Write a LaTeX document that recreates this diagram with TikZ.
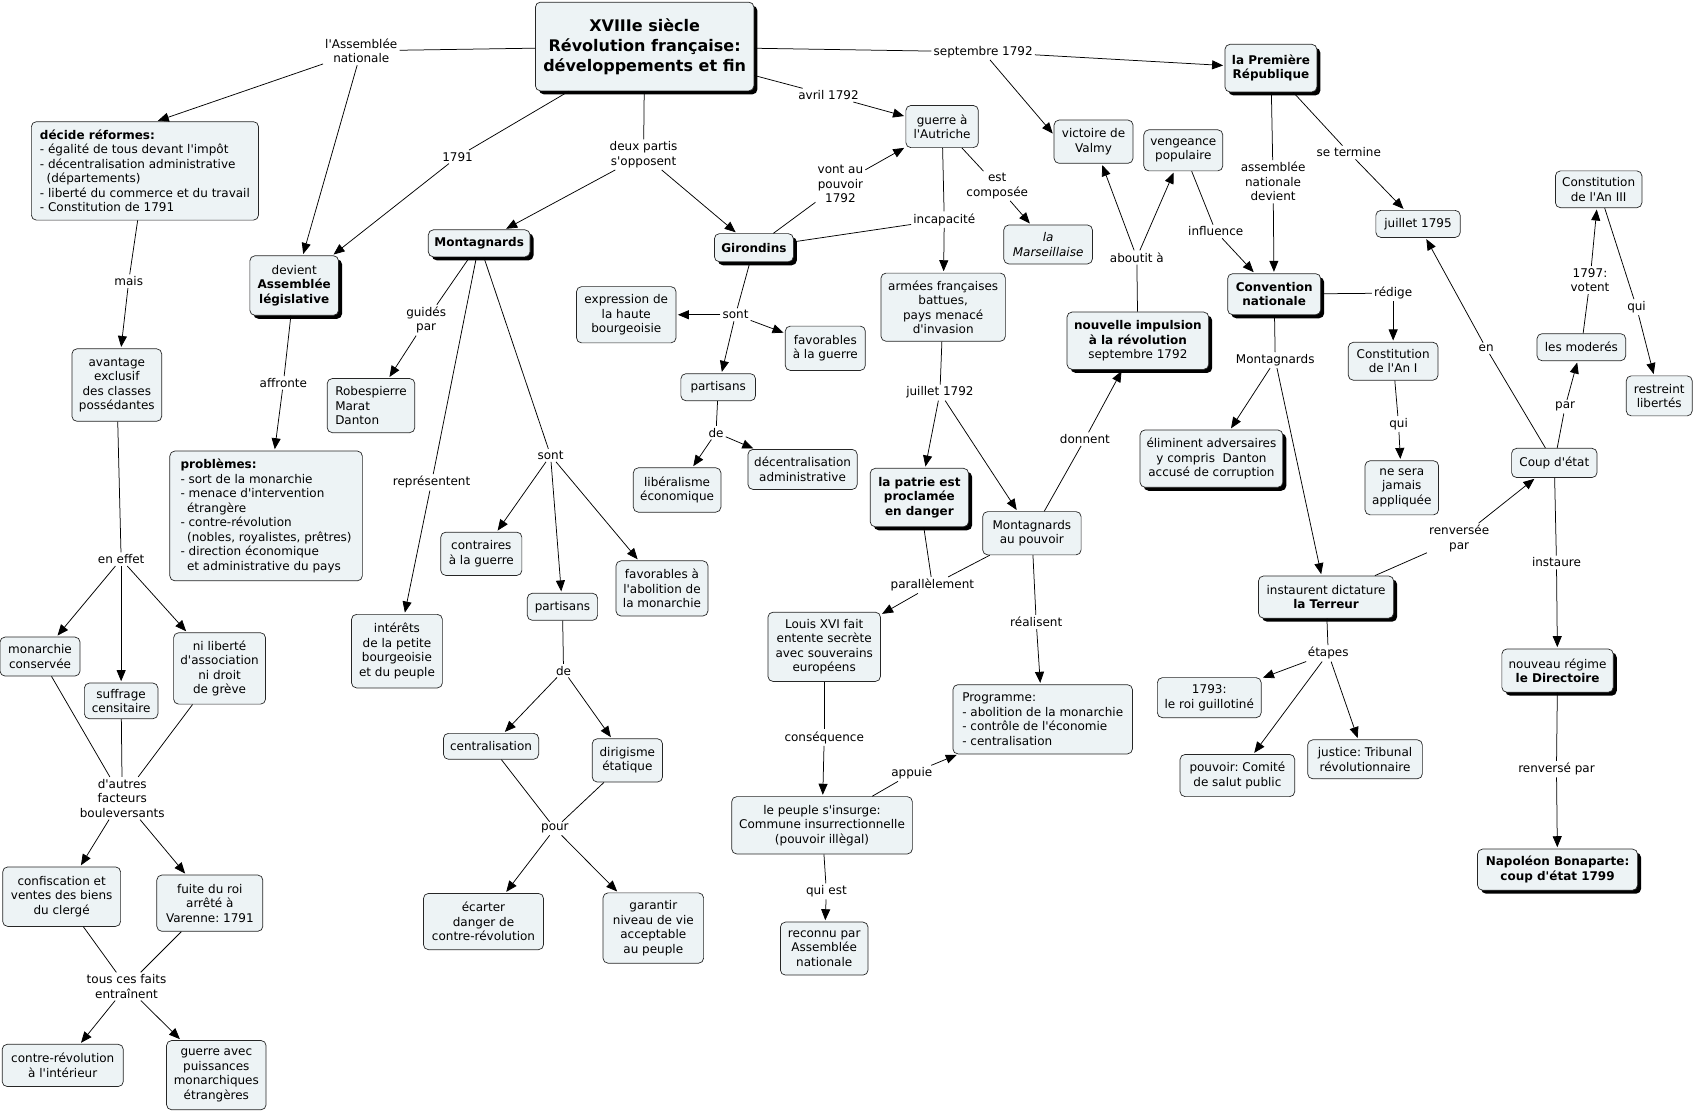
\documentclass[tikz,border=0pt]{standalone}
\usepackage{fontspec}
\setmainfont{DejaVu Sans}[Ligatures=TeXOff]
\usetikzlibrary{arrows.meta,shadows}
\definecolor{boxfill}{HTML}{EDF3F5}
\newcommand\myfs{\fontsize{12}{14.5}\selectfont\frenchspacing}
\newcommand\myts{\fontsize{16}{20}\selectfont\frenchspacing}
\begin{document}
\begin{tikzpicture}[x=1.0816pt,y=-1.0816pt,
  cbox/.style={draw=black!85, line width=0.7pt, rounded corners=5pt, fill=boxfill, inner sep=3pt, align=center, font=\myfs},
  kbox/.style={cbox, drop shadow={shadow xshift=3.5pt, shadow yshift=-3.5pt, fill=black, opacity=1}},
  wh/.style 2 args={minimum width=#1*1.0816pt, minimum height=#2*1.0816pt},
  lab/.style={inner sep=2pt, align=center, font=\myfs},
  conn/.style={line width=0.75pt, draw=black},
  arr/.style={conn, shorten >=1.5pt, -{Triangle[length=11pt,width=9pt]}}]
\useasboundingbox (0,0) rectangle (1568,1028);
% ---------- concepts ----------
\node[kbox, wh={202}{82}, font=\myts\bfseries] (main) at (596,43) {XVIIIe siècle\\Révolution française:\\développements et fin};
\node[cbox, wh={210}{91}, align=left] (reformes) at (134,158) {\textbf{décide réformes:}\\- égalité de tous devant l'impôt\\- décentralisation administrative\\\hspace*{0.55em}(départements)\\- liberté du commerce et du travail\\- Constitution de 1791};
\node[kbox, wh={82}{55}] (assleg) at (272,264) {devient\\\textbf{Assemblée}\\\textbf{législative}};
\node[kbox, wh={94}{25}, font=\myfs\bfseries] (montL) at (443,225) {Montagnards};
\node[kbox, wh={73}{26}, font=\myfs\bfseries] (girondins) at (697,229) {Girondins};
\node[cbox, wh={67}{39}] (guerre) at (871,117) {guerre à\\l'Autriche};
\node[cbox, wh={73}{40}] (valmy) at (1011,131) {victoire de\\Valmy};
\node[cbox, wh={73}{38}] (vengeance) at (1094,139) {vengeance\\populaire};
\node[kbox, wh={85}{44}, font=\myfs\bfseries] (republique) at (1175,63) {la Première\\République};
\node[cbox, wh={78}{25}] (juillet) at (1311,207) {juillet 1795};
\node[cbox, wh={80}{34}] (const3) at (1478,175) {Constitution\\de l'An III};
\node[cbox, wh={115}{63}] (armees) at (872,284) {armées françaises\\battues,\\pays menacé\\d'invasion};
\node[cbox, wh={82}{36}, font=\myfs\itshape] (marseillaise) at (969,226) {la\\Marseillaise};
\node[cbox, wh={92}{52}] (expression) at (579,291) {expression de\\la haute\\bourgeoisie};
\node[cbox, wh={74}{41}] (favguerre) at (763,322) {favorables\\à la guerre};
\node[cbox, wh={69}{25}] (partG) at (664,358) {partisans};
\node[cbox, wh={81}{41}] (liberalisme) at (626,453) {libéralisme\\économique};
\node[cbox, wh={101}{37}] (decentral) at (742,434) {décentralisation\\administrative};
\node[cbox, wh={81}{50}, align=left] (robespierre) at (343,375) {Robespierre\\Marat\\Danton};
\node[cbox, wh={178}{120}, align=left] (problemes) at (246,477) {\textbf{problèmes:}\\- sort de la monarchie\\- menace d'intervention\\\hspace*{0.55em}étrangère\\- contre-révolution\\\hspace*{0.55em}(nobles, royalistes, prêtres)\\- direction économique\\\hspace*{0.55em}et administrative du pays};
\node[cbox, wh={83}{67}] (avantage) at (108,356) {avantage\\exclusif\\des classes\\possédantes};
\node[cbox, wh={74}{36}] (monarchie) at (37,607) {monarchie\\conservée};
\node[cbox, wh={68}{33}] (suffrage) at (112,648) {suffrage\\censitaire};
\node[cbox, wh={85}{66}] (niliberte) at (203,618) {ni liberté\\d'association\\ni droit\\de grève};
\node[cbox, wh={109}{55}] (confiscation) at (57,829) {confiscation et\\ventes des biens\\du clergé};
\node[cbox, wh={98}{52}] (fuite) at (194,835) {fuite du roi\\arrêté à\\Varenne: 1791};
\node[cbox, wh={112}{39}] (contrerev) at (58,985) {contre-révolution\\à l'intérieur};
\node[cbox, wh={92}{64}] (guerreavec) at (200,994) {guerre avec\\puissances\\monarchiques\\étrangères};
\node[cbox, wh={84}{68}] (interets) at (367,602) {intérêts\\de la petite\\bourgeoisie\\et du peuple};
\node[cbox, wh={75}{40}] (contraires) at (445,512) {contraires\\à la guerre};
\node[cbox, wh={85}{51}] (favabol) at (612,544) {favorables à\\l'abolition de\\la monarchie};
\node[cbox, wh={65}{25}] (partM) at (520,561) {partisans};
\node[cbox, wh={88}{24}] (centralisation) at (454,690) {centralisation};
\node[cbox, wh={65}{40}] (dirigisme) at (580,703) {dirigisme\\étatique};
\node[cbox, wh={111}{52}] (ecarter) at (447,852) {écarter\\danger de\\contre-révolution};
\node[cbox, wh={93}{65}] (garantir) at (604,858) {garantir\\niveau de vie\\acceptable\\au peuple};
\node[kbox, wh={91}{54}, font=\myfs\bfseries] (patrie) at (850,460) {la patrie est\\proclamée\\en danger};
\node[cbox, wh={91}{40}] (montpouvoir) at (954,493) {Montagnards\\au pouvoir};
\node[cbox, wh={104}{64}] (louis) at (762,598) {Louis XVI fait\\entente secrète\\avec souverains\\européens};
\node[cbox, wh={166}{64}, align=left] (programme) at (964,665) {Programme:\\- abolition de la monarchie\\- contrôle de l'économie\\- centralisation};
\node[cbox, wh={167}{53}] (peuple) at (760,763) {le peuple s'insurge:\\Commune insurrectionnelle\\(pouvoir illègal)};
\node[cbox, wh={81}{49}] (reconnu) at (762,877) {reconnu par\\Assemblée\\nationale};
\node[kbox, wh={131}{53}] (impulsion) at (1052,315) {\textbf{nouvelle impulsion}\\\textbf{à la révolution}\\septembre 1792};
\node[kbox, wh={86}{38}, font=\myfs\bfseries] (convention) at (1178,272) {Convention\\nationale};
\node[cbox, wh={83}{35}] (const1) at (1288,334) {Constitution\\de l'An I};
\node[cbox, wh={68}{50}] (nesera) at (1296,451) {ne sera\\jamais\\appliquée};
\node[kbox, wh={132}{53}] (elimin) at (1120,424) {éliminent adversaires\\y compris~ Danton\\accusé de corruption};
\node[kbox, wh={125}{39}] (terreur) at (1226,552) {instaurent dictature\\\textbf{la Terreur}};
\node[cbox, wh={96}{37}] (guillotine) at (1118,645) {1793:\\le roi guillotiné};
\node[cbox, wh={106}{39}] (comite) at (1144,717) {pouvoir: Comité\\de salut public};
\node[cbox, wh={106}{36}] (tribunal) at (1262,702) {justice: Tribunal\\révolutionnaire};
\node[cbox, wh={79}{27}] (coup) at (1437,428) {Coup d'état};
\node[cbox, wh={82}{25}] (moderes) at (1462,321) {les moderés};
\node[cbox, wh={61}{37}] (restreint) at (1534,366) {restreint\\libertés};
\node[kbox, wh={103}{40}] (directoire) at (1440,620) {nouveau régime\\\textbf{le Directoire}};
\node[kbox, wh={148}{38}, font=\myfs\bfseries] (napoleon) at (1440,804) {Napoléon Bonaparte:\\coup d'état 1799};
% ---------- linking phrases ----------
\node[lab] (L1) at (334,47) {l'Assemblée\\nationale};
\node[lab] (L2) at (423,145) {1791};
\node[lab] (L3) at (595,143) {deux partis\\s'opposent};
\node[lab] (L4) at (766,88) {avril 1792};
\node[lab] (L5) at (909,48) {septembre 1792};
\node[lab] (L6) at (777,170) {vont au\\pouvoir\\1792};
\node[lab] (L7) at (922,172) {est\\composée};
\node[lab] (L8) at (873,203) {incapacité};
\node[lab] (L9) at (680,291) {sont};
\node[lab] (L10) at (662,400) {de};
\node[lab] (L11) at (119,260) {mais};
\node[lab] (L12) at (262,354) {affronte};
\node[lab] (L13) at (394,296) {guidés\\par};
\node[lab] (L14) at (399,446) {représentent};
\node[lab] (L15) at (509,421) {sont};
\node[lab] (L16) at (521,620) {de};
\node[lab] (L17) at (513,766) {pour};
\node[lab] (L18) at (112,517) {en effet};
\node[lab] (L19) at (113,738) {d'autres\\facteurs\\bouleversants};
\node[lab] (L20) at (117,912) {tous ces faits\\entraînent};
\node[lab] (L21) at (869,363) {juillet 1792};
\node[lab] (L22) at (862,541) {parallèlement};
\node[lab] (L23) at (958,575) {réalisent};
\node[lab] (L24) at (762,682) {conséquence};
\node[lab] (L25) at (843,715) {appuie};
\node[lab] (L26) at (764,824) {qui est};
\node[lab] (L27) at (1003,406) {donnent};
\node[lab] (L28) at (1051,238) {aboutit à};
\node[lab] (L29) at (1124,214) {influence};
\node[lab] (L30) at (1177,168) {assemblée\\nationale\\devient};
\node[lab] (L31) at (1247,141) {se termine};
\node[lab] (L32) at (1288,271) {rédige};
\node[lab] (L33) at (1179,333) {Montagnards};
\node[lab] (L34) at (1293,392) {qui};
\node[lab] (L35) at (1228,604) {étapes};
\node[lab] (L36) at (1349,498) {renversée\\par};
\node[lab] (L37) at (1439,520) {instaure};
\node[lab] (L38) at (1439,711) {renversé par};
\node[lab] (L39) at (1374,322) {en};
\node[lab] (L40) at (1447,376) {par};
\node[lab] (L41) at (1470,259) {1797:\\votent};
\node[lab] (L42) at (1513,284) {qui};
% ---------- connectors ----------
\draw[conn] (main) -- (L1);
\draw[arr] (L1) -- (reformes.77);
\draw[arr] (L1) -- (assleg);
\draw[conn] (main) -- (L2);
\draw[arr] (L2) -- (assleg);
\draw[conn] (main) -- (L3);
\draw[arr] (L3) -- (montL);
\draw[arr] (L3) -- (girondins);
\draw[conn] (main) -- (L4);
\draw[arr] (L4) -- (guerre);
\draw[conn] (main) -- (L5);
\draw[arr] (L5) -- (republique);
\draw[arr] (L5) -- (valmy.170);
\draw[conn] (girondins) -- (L6);
\draw[arr] (L6) -- (guerre);
\draw[conn] (guerre) -- (L7);
\draw[arr] (L7) -- (marseillaise);
\draw[conn] (guerre) -- (L8);
\draw[conn] (girondins) -- (L8);
\draw[arr] (L8) -- (armees);
\draw[conn] (girondins) -- (L9);
\draw[arr] (L9) -- (expression);
\draw[arr] (L9) -- (favguerre);
\draw[arr] (L9) -- (partG);
\draw[conn] (partG) -- (L10);
\draw[arr] (L10) -- (liberalisme);
\draw[arr] (L10) -- (decentral);
\draw[conn] (reformes) -- (L11);
\draw[arr] (L11) -- (avantage);
\draw[conn] (assleg) -- (L12);
\draw[arr] (L12) -- (problemes);
\draw[conn] (montL) -- (L13);
\draw[arr] (L13) -- (robespierre);
\draw[conn] (montL) -- (L14);
\draw[arr] (L14) -- (interets);
\draw[conn] (montL) -- (L15);
\draw[arr] (L15) -- (contraires);
\draw[arr] (L15) -- (partM);
\draw[arr] (L15) -- (favabol);
\draw[conn] (partM) -- (L16);
\draw[arr] (L16) -- (centralisation);
\draw[arr] (L16) -- (dirigisme);
\draw[conn] (centralisation) -- (L17);
\draw[conn] (dirigisme) -- (L17);
\draw[arr] (L17) -- (ecarter);
\draw[arr] (L17) -- (garantir);
\draw[conn] (avantage) -- (L18);
\draw[arr] (L18) -- (monarchie);
\draw[arr] (L18) -- (suffrage);
\draw[arr] (L18) -- (niliberte);
\draw[conn] (monarchie) -- (L19);
\draw[conn] (suffrage) -- (L19);
\draw[conn] (niliberte) -- (L19);
\draw[arr] (L19) -- (confiscation);
\draw[arr] (L19) -- (fuite);
\draw[conn] (confiscation) -- (L20);
\draw[conn] (fuite) -- (L20);
\draw[arr] (L20) -- (contrerev);
\draw[arr] (L20) -- (guerreavec);
\draw[conn] (armees) -- (L21);
\draw[arr] (L21) -- (patrie);
\draw[arr] (L21) -- (montpouvoir);
\draw[conn] (patrie) -- (L22);
\draw[conn] (montpouvoir) -- (L22);
\draw[arr] (L22) -- (louis);
\draw[conn] (montpouvoir) -- (L23);
\draw[arr] (L23) -- (programme);
\draw[conn] (louis) -- (L24);
\draw[arr] (L24) -- (peuple);
\draw[conn] (peuple) -- (L25);
\draw[arr] (L25) -- (programme);
\draw[conn] (peuple) -- (L26);
\draw[arr] (L26) -- (reconnu);
\draw[conn] (montpouvoir) -- (L27);
\draw[arr] (L27) -- (impulsion);
\draw[conn] (impulsion) -- (L28);
\draw[arr] (L28) -- (valmy);
\draw[arr] (L28) -- (vengeance);
\draw[conn] (vengeance) -- (L29);
\draw[arr] (L29) -- (convention);
\draw[conn] (republique) -- (L30);
\draw[arr] (L30) -- (convention);
\draw[conn] (republique) -- (L31);
\draw[arr] (L31) -- (juillet);
\draw[conn] (convention) -- (L32);
\draw[arr] (L32) -- (const1);
\draw[conn] (convention) -- (L33);
\draw[arr] (L33) -- (elimin);
\draw[arr] (L33) -- (terreur);
\draw[conn] (const1) -- (L34);
\draw[arr] (L34) -- (nesera);
\draw[conn] (terreur) -- (L35);
\draw[arr] (L35) -- (guillotine);
\draw[arr] (L35) -- (comite);
\draw[arr] (L35) -- (tribunal);
\draw[conn] (terreur) -- (L36);
\draw[arr] (L36) -- (coup);
\draw[conn] (coup) -- (L37);
\draw[arr] (L37) -- (directoire);
\draw[conn] (directoire) -- (L38);
\draw[arr] (L38) -- (napoleon);
\draw[conn] (coup) -- (L39);
\draw[arr] (L39) -- (juillet);
\draw[conn] (coup) -- (L40);
\draw[arr] (L40) -- (moderes);
\draw[conn] (moderes) -- (L41);
\draw[arr] (L41) -- (const3);
\draw[conn] (const3) -- (L42);
\draw[arr] (L42) -- (restreint);
\end{tikzpicture}
\end{document}
